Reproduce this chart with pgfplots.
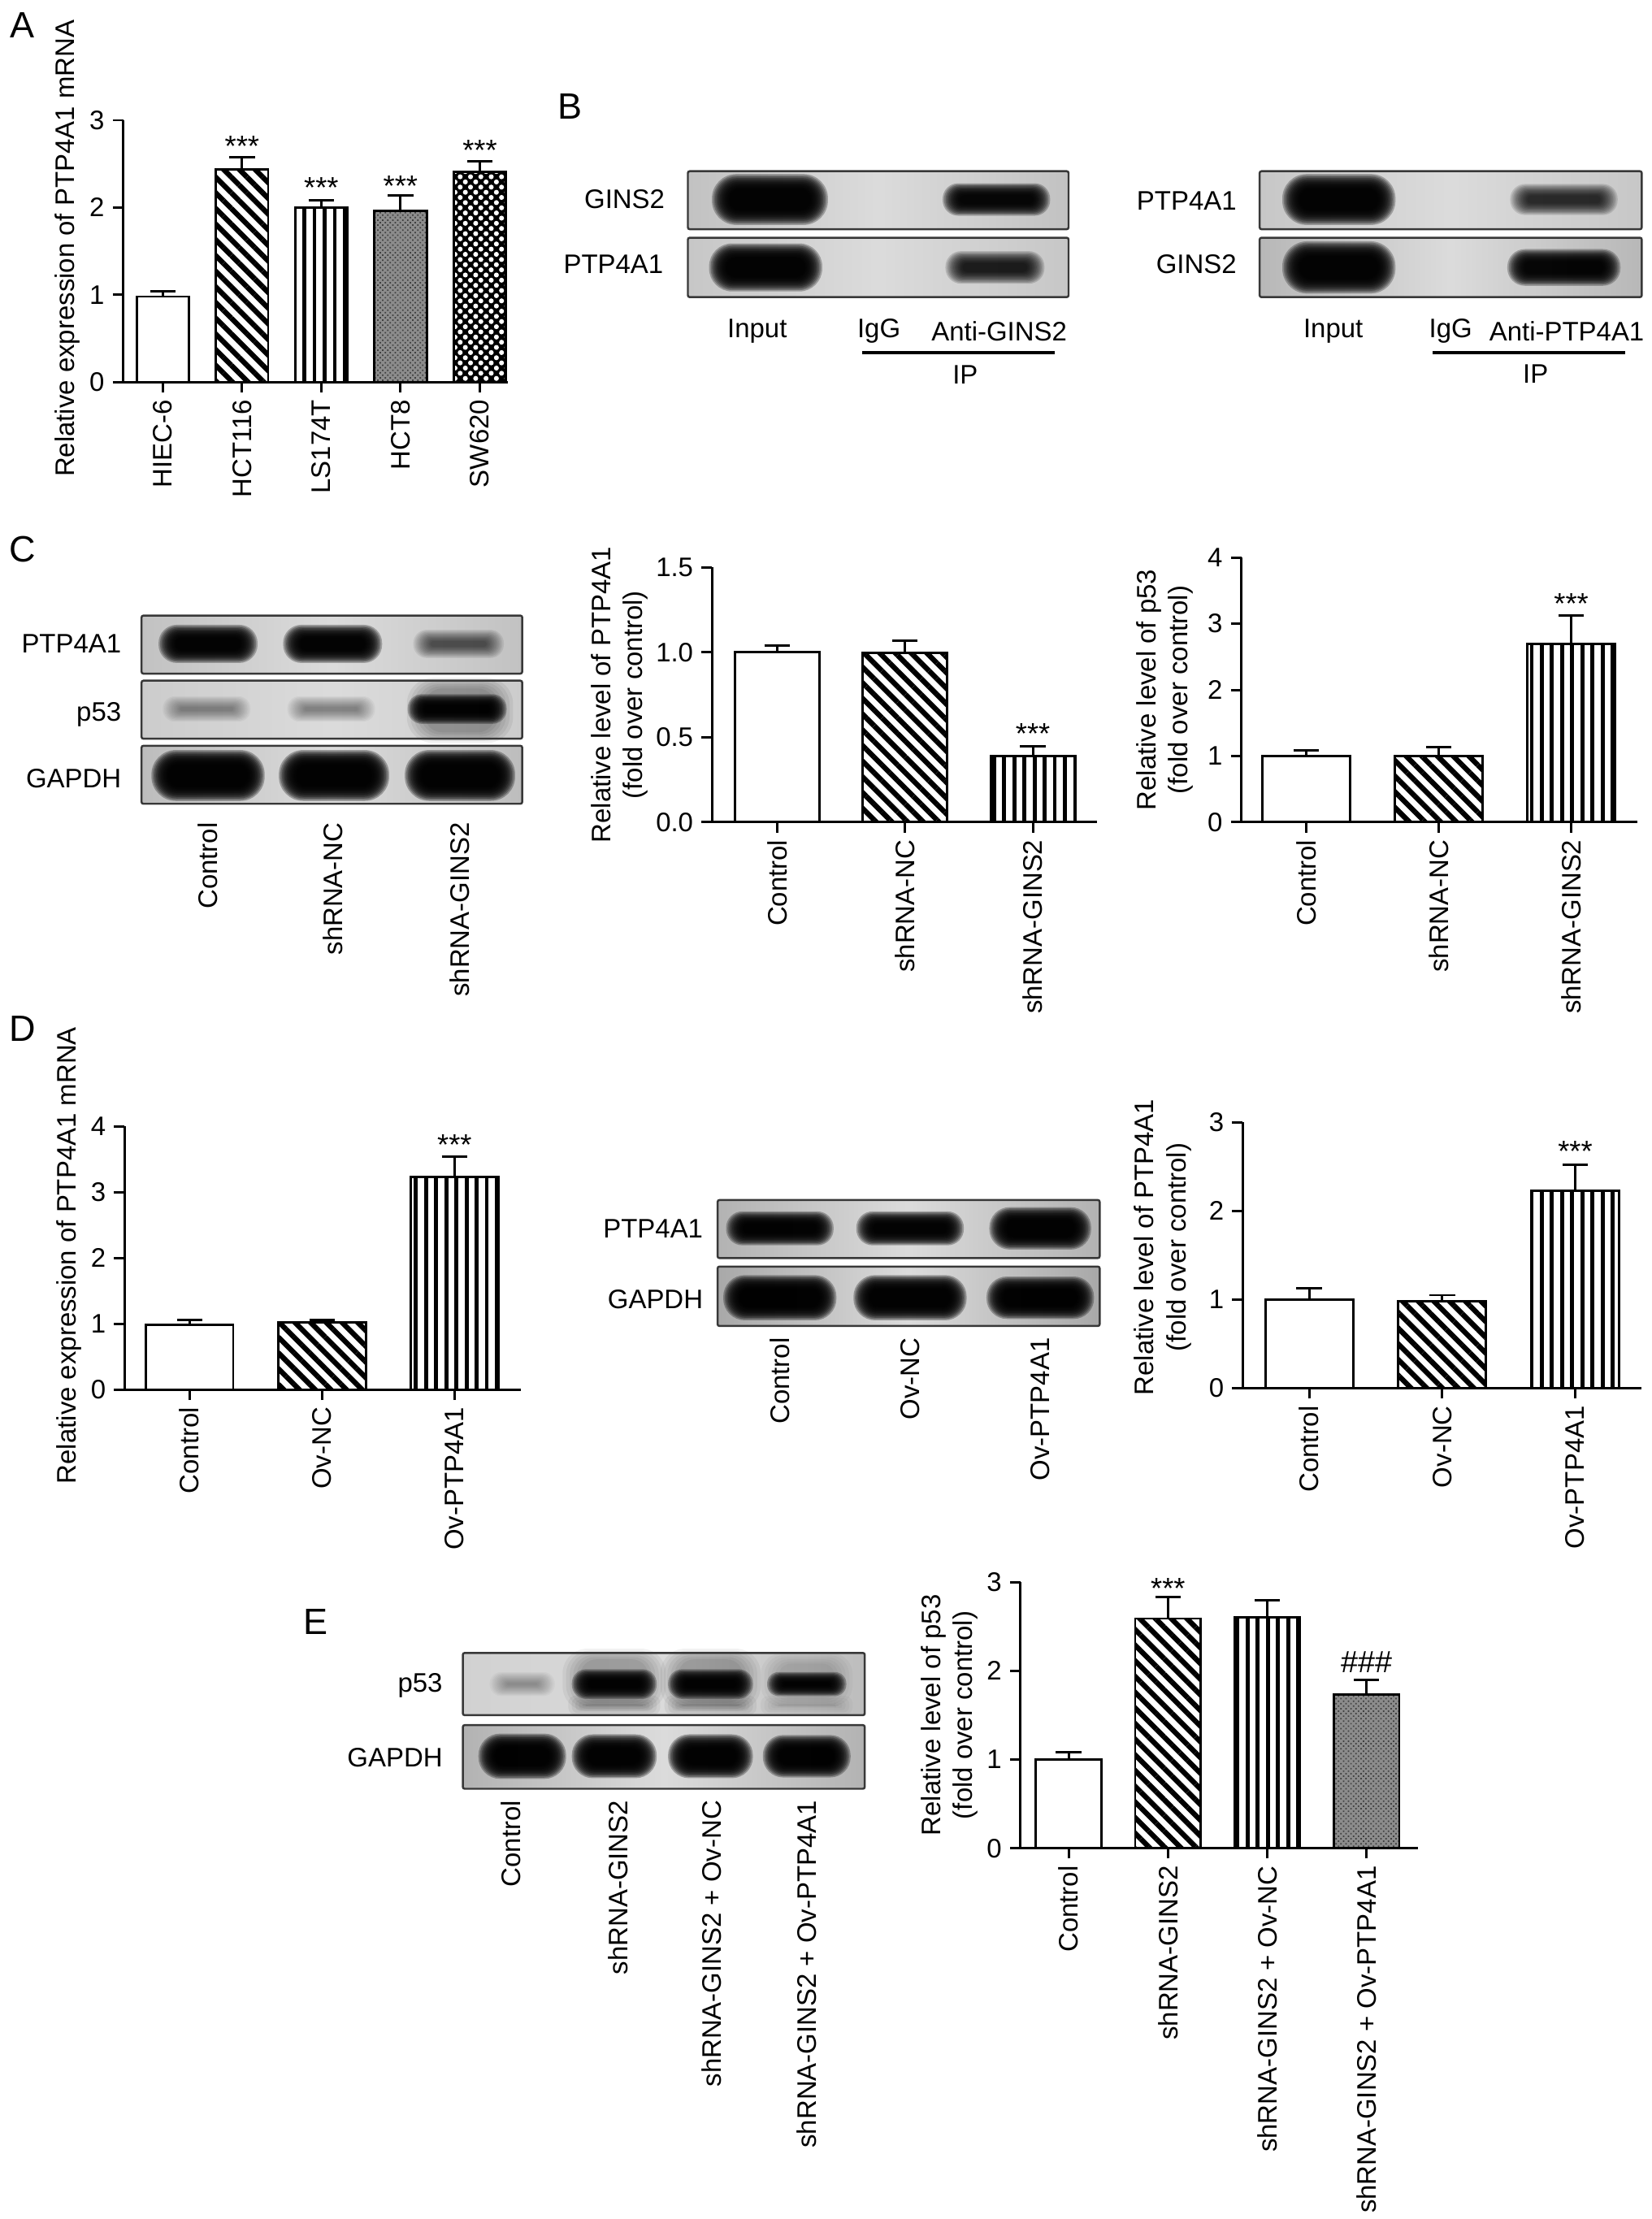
\documentclass[border=0pt]{standalone}
\usepackage{fontspec}
\setmainfont{Liberation Sans}
\usepackage{pgfplots}
\pgfplotsset{compat=1.18}
\usetikzlibrary{patterns.meta}
\newcommand{\fs}{\fontsize{11.35}{13.6}\selectfont}
\newcommand{\st}{\fontsize{12.5}{14}\selectfont}
\tikzset{
  diag/.style={fill=white,postaction={pattern={Lines[angle=-45,distance=4.7pt,line width=2.2pt]},pattern color=black}},
  vert/.style={fill=white,postaction={pattern={Lines[angle=90,distance=4.3pt,line width=1.6pt]},pattern color=black}},
  fine/.style={fill=black!45,postaction={pattern={Dots[angle=45,distance=1.5pt,radius=0.42pt]},pattern color=black!75}},
  lattice/.style={fill=black,postaction={pattern={Dots[angle=45,distance=3.1pt,radius=1.05pt]},pattern color=white}},
  blank/.style={fill=white},
}
\pgfplotsset{
  panel/.style={
    scale only axis, anchor=south west,
    axis lines=left, axis line style={-,line width=1pt,black},
    every tick/.style={line width=1pt,black},
    major tick length=4.4pt, tick align=outside,
    xtick pos=bottom, ytick pos=left,
    ybar, ymin=0,
    bar width=0.66, bar shift=0pt,
    /pgf/number format/assume math mode=true,
    tick label style={font=\fs},
    label style={font=\fs},
    xticklabel style={rotate=90,anchor=east,xshift=-0.5pt,yshift=0pt,inner sep=1pt},
    xticklabel shift=1.4pt,
    y label style={anchor=center,align=center},
    clip=false,
    every axis plot/.append style={draw=black,line width=1pt,
      error bars/y dir=plus,error bars/y explicit,
      error bars/error bar style={line width=1pt,black},
      error bars/error mark options={rotate=90,mark size=5.4pt,line width=1pt,black}},
  },
  pos/.style n args={2}{at={({#1*0.6pt},{(1568-#2)*0.6pt})}},
}
\newcommand{\band}[5]{%
  \foreach \k in {0,...,11}{%
    \pgfmathsetmacro{\bw}{#3+10-\k*2.2}\pgfmathsetmacro{\bh}{#4+14-\k*(14+0.3*#4)/11}%
    \fill[black,opacity=#5*0.75,rounded corners={0.48*\bh*0.6pt}] (#1-\bw/2,{1568-#2-\bh/2}) rectangle (#1+\bw/2,{1568-#2+\bh/2});
  }}
\newcommand{\smear}[5]{%
  \foreach \k in {0,...,5}{%
    \pgfmathsetmacro{\bw}{#3+15-\k*5}\pgfmathsetmacro{\bh}{#4+10-\k*3}%
    \fill[black,opacity=#5,rounded corners={0.4*\bh*0.6pt}] (#1-\bw/2,{1568-#2-\bh/2}) rectangle (#1+\bw/2,{1568-#2+\bh/2});
  }}
\newcommand{\blot}[6]{% x1 y1 x2 y2 leftgray rightgray
  \shade[left color=#5,right color=#6,middle color=black!14] (#1,1568-#2) rectangle (#3,1568-#4);
}
\newcommand{\blotframe}[4]{\draw[black!78,line width=0.85pt,rounded corners=0.8pt] (#1,1568-#2) rectangle (#3,1568-#4);}
\newcommand{\lab}[3]{\node[anchor=east,font=\fs,inner sep=0pt] at (#1,1568-#2) {#3};}
\newcommand{\rlab}[3]{\node[anchor=east,rotate=90,font=\fs,inner sep=0pt] at (#1,1568-#2) {#3};}
\begin{document}
\begin{tikzpicture}[x=0.6pt,y=0.6pt]
\path (0,0) rectangle (1167,1568);
\node[font=\fontsize{15.5}{18}\selectfont] at (16,1568-18) {A};
\node[font=\fontsize{15.5}{18}\selectfont] at (403,1568-75) {B};
\node[font=\fontsize{15.5}{18}\selectfont] at (16,1568-388) {C};
\node[font=\fontsize{15.5}{18}\selectfont] at (16,1568-727) {D};
\node[font=\fontsize{15.5}{18}\selectfont] at (223,1568-1146) {E};
% A
\begin{axis}[panel,pos={87}{270},width=163.2pt,height=111pt,
  xmin=-0.5,xmax=4.357,ymax=3,ytick={0,1,2,3},xtick={0,1,2,3,4},
  xticklabels={HIEC-6,HCT116,LS174T,HCT8,SW620},
  ylabel={Relative expression of PTP4A1 mRNA},
  y label style={at={(axis description cs:-0.145,0.51)}}]
\addplot[blank] coordinates {(0,0.98) +- (0,0.06)};
\addplot[diag] coordinates {(1,2.44) +- (0,0.14)};
\addplot[vert] coordinates {(2,2.00) +- (0,0.08)};
\addplot[fine] coordinates {(3,1.96) +- (0,0.18)};
\addplot[lattice] coordinates {(4,2.41) +- (0,0.12)};
\node[font=\st] at (axis cs:1,2.70) {***};
\node[font=\st] at (axis cs:2,2.23) {***};
\node[font=\st] at (axis cs:3,2.25) {***};
\node[font=\st] at (axis cs:4,2.66) {***};
\end{axis}
% B
\blot{486}{121}{755}{162}{black!24}{black!24}
\blot{486}{168}{755}{210}{black!22}{black!22}
\blot{890}{121}{1160}{162}{black!22}{black!22}
\blot{890}{168}{1160}{210}{black!28}{black!28}
\band{544}{141}{72}{22}{0.35}\band{704}{141}{66}{9}{0.32}
\band{541}{189}{70}{20}{0.35}\band{703}{189}{60}{9}{0.2}
\band{946}{141}{70}{22}{0.35}\band{1105}{141}{66}{8}{0.16}
\band{946}{189}{70}{23}{0.35}\band{1105}{189}{70}{12}{0.33}
\blotframe{486}{121}{755}{162}\blotframe{486}{168}{755}{210}
\blotframe{890}{121}{1160}{162}\blotframe{890}{168}{1160}{210}
\lab{470}{141}{GINS2}\lab{469}{187}{PTP4A1}
\lab{874}{142}{PTP4A1}\lab{874}{187}{GINS2}
\node[font=\fs] at (535,1568-234) {Input};
\node[font=\fs] at (621,1568-234) {IgG};
\node[font=\fs] at (706,1568-234) {Anti-GINS2};
\node[font=\fs] at (682,1568-265) {IP};
\fill (609,1568-248) rectangle (745,1568-250.5);
\node[font=\fs] at (942,1568-234) {Input};
\node[font=\fs] at (1025,1568-234) {IgG};
\node[font=\fs] at (1107,1568-234) {Anti-PTP4A1};
\node[font=\fs] at (1085,1568-264) {IP};
\fill (1012,1568-248) rectangle (1148,1568-250.5);
% C blots
\blot{100}{435}{369}{476}{black!24}{black!24}
\blot{100}{481}{369}{522}{black!20}{black!20}
\blot{100}{527}{369}{568}{black!26}{black!26}
\smear{325}{502}{60}{36}{0.06}
\band{147}{455}{60}{13}{0.35}\band{235}{455}{60}{13}{0.35}\band{324}{455}{54}{6}{0.1}
\band{146}{501}{52}{4}{0.05}\band{234}{501}{52}{4}{0.05}\band{323}{501}{60}{7}{0.36}
\band{147}{548}{70}{22}{0.38}\band{236}{548}{68}{22}{0.38}\band{325}{548}{68}{22}{0.38}
\blotframe{100}{435}{369}{476}\blotframe{100}{481}{369}{522}\blotframe{100}{527}{369}{568}
\lab{86}{455}{PTP4A1}\lab{86}{505}{p53}\lab{86}{550}{GAPDH}
\rlab{147}{581}{Control}\rlab{235}{581}{shRNA-NC}\rlab{325}{581}{shRNA-GINS2}
% C bar 1
\begin{axis}[panel,pos={503}{581},width=163.2pt,height=108pt,
  xmin=-0.51,xmax=2.5,ymax=1.5,ytick={0,0.5,1,1.5},xtick={0,1,2},
  /pgf/number format/fixed,/pgf/number format/fixed zerofill,/pgf/number format/precision=1,
  xticklabels={Control,shRNA-NC,shRNA-GINS2},
  ylabel={Relative level of PTP4A1\\(fold over control)},
  y label style={at={(axis description cs:-0.24,0.5)}}]
\addplot[blank] coordinates {(0,1.0) +- (0,0.04)};
\addplot[diag] coordinates {(1,0.995) +- (0,0.075)};
\addplot[vert] coordinates {(2,0.39) +- (0,0.055)};
\node[font=\st] at (axis cs:2,0.52) {***};
\end{axis}
% C bar 2
\begin{axis}[panel,pos={877}{581},width=168pt,height=112.2pt,
  xmin=-0.49,xmax=2.5,ymax=4,ytick={0,1,2,3,4},xtick={0,1,2},
  xticklabels={Control,shRNA-NC,shRNA-GINS2},
  ylabel={Relative level of p53\\(fold over control)},
  y label style={at={(axis description cs:-0.193,0.5)}}]
\addplot[blank] coordinates {(0,1.0) +- (0,0.09)};
\addplot[diag] coordinates {(1,1.0) +- (0,0.13)};
\addplot[vert] coordinates {(2,2.7) +- (0,0.42)};
\node[font=\st] at (axis cs:2,3.3) {***};
\end{axis}
% D bar 1
\begin{axis}[panel,pos={88}{982},width=168pt,height=111.6pt,
  xmin=-0.49,xmax=2.5,ymax=4,ytick={0,1,2,3,4},xtick={0,1,2},
  xticklabels={Control,Ov-NC,Ov-PTP4A1},
  ylabel={Relative expression of PTP4A1 mRNA},
  y label style={at={(axis description cs:-0.14,0.51)}}]
\addplot[blank] coordinates {(0,0.99) +- (0,0.07)};
\addplot[diag] coordinates {(1,1.02) +- (0,0.04)};
\addplot[vert] coordinates {(2,3.23) +- (0,0.31)};
\node[font=\st] at (axis cs:2,3.72) {***};
\end{axis}
% D blots
\blot{507}{848}{777}{889}{black!30}{black!30}
\blot{507}{895}{777}{937}{black!34}{black!34}
\band{551}{868}{66}{10}{0.36}\band{643}{868}{66}{10}{0.36}\band{735}{868}{62}{16}{0.37}
\band{551}{917}{70}{18}{0.38}\band{643}{917}{70}{18}{0.38}\band{735}{917}{66}{16}{0.38}
\blotframe{507}{848}{777}{889}\blotframe{507}{895}{777}{937}
\lab{497}{868}{PTP4A1}\lab{497}{918}{GAPDH}
\rlab{551}{945}{Control}\rlab{643}{945}{Ov-NC}\rlab{735}{945}{Ov-PTP4A1}
% D bar 2
\begin{axis}[panel,pos={878}{981},width=169.2pt,height=112.8pt,
  xmin=-0.5,xmax=2.5,ymax=3,ytick={0,1,2,3},xtick={0,1,2},
  xticklabels={Control,Ov-NC,Ov-PTP4A1},
  ylabel={Relative level of PTP4A1\\(fold over control)},
  y label style={at={(axis description cs:-0.2,0.53)}}]
\addplot[blank] coordinates {(0,1.0) +- (0,0.13)};
\addplot[diag] coordinates {(1,0.98) +- (0,0.07)};
\addplot[vert] coordinates {(2,2.23) +- (0,0.29)};
\node[font=\st] at (axis cs:2,2.67) {***};
\end{axis}
% E blots
\blot{327}{1168}{611}{1212}{black!18}{black!26}
\blot{327}{1219}{611}{1264}{black!30}{black!30}
\smear{434}{1187}{58}{34}{0.05}\smear{502}{1187}{56}{34}{0.05}\smear{570}{1187}{50}{28}{0.03}
\smear{434}{1205}{50}{4}{0.05}\smear{502}{1205}{50}{4}{0.05}\smear{570}{1205}{50}{3}{0.03}
\band{369}{1190}{36}{3}{0.04}\band{434}{1190}{50}{7}{0.36}\band{502}{1190}{50}{7}{0.36}\band{570}{1190}{46}{3}{0.36}
\band{369}{1241}{52}{18}{0.38}\band{434}{1241}{50}{17}{0.38}\band{502}{1241}{50}{17}{0.38}\band{570}{1241}{52}{16}{0.38}
\blotframe{327}{1168}{611}{1212}\blotframe{327}{1219}{611}{1264}
\lab{313}{1191}{p53}\lab{313}{1242}{GAPDH}
\rlab{361}{1272}{Control}\rlab{437}{1272}{shRNA-GINS2}\rlab{503}{1272}{shRNA-GINS2 + Ov-NC}\rlab{570}{1272}{shRNA-GINS2 + Ov-PTP4A1}
% E bar
\begin{axis}[panel,pos={721}{1306},width=168.6pt,height=112.8pt,
  xmin=-0.486,xmax=3.52,ymax=3,ytick={0,1,2,3},xtick={0,1,2,3},bar width=0.66,
  xticklabels={Control,shRNA-GINS2,shRNA-GINS2 + Ov-NC,shRNA-GINS2 + Ov-PTP4A1},
  ylabel={Relative level of p53\\(fold over control)},
  y label style={at={(axis description cs:-0.178,0.5)}}]
\addplot[blank] coordinates {(0,1.0) +- (0,0.08)};
\addplot[diag] coordinates {(1,2.59) +- (0,0.24)};
\addplot[vert] coordinates {(2,2.6) +- (0,0.2)};
\addplot[fine] coordinates {(3,1.73) +- (0,0.17)};
\node[font=\st] at (axis cs:1,2.93) {***};
\node[font=\fontsize{13}{15}\selectfont] at (axis cs:3,2.1) {\#\#\#};
\end{axis}
\end{tikzpicture}
\end{document}
